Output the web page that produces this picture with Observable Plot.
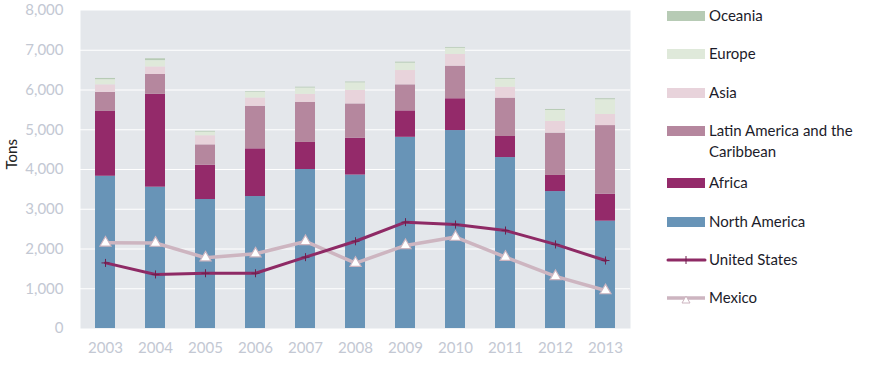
<!DOCTYPE html>
<html>
<head>
<meta charset="utf-8">
<script src="https://cdn.jsdelivr.net/npm/d3@7"></script>
<script src="https://cdn.jsdelivr.net/npm/@observablehq/plot@0.6"></script>
<style>
  html, body { margin: 0; padding: 0; background: #fff; }
  #chart { width: 872px; height: 368px; }
</style>
</head>
<body>
<div id="chart"></div>
<script>
const years = ["2003","2004","2005","2006","2007","2008","2009","2010","2011","2012","2013"];
const regions = ["North America","Africa","Latin America and the Caribbean","Asia","Europe","Oceania"];
const regionColors = ["#6894b7","#942a6a","#b5879e","#e8d3db","#dfe9da","#b7cbb5"];
const northAmerica = [3830,3555,3245,3320,4000,3860,4810,4980,4300,3445,2700];
const africa       = [1630,2335, 865,1200, 680, 930, 665, 800, 530, 405, 680];
const latinAmerica = [ 480, 500, 510,1070,1010, 860, 655, 820, 965,1065,1725];
const asia         = [ 190, 190, 230, 210, 200, 340, 360, 295, 275, 295, 280];
const europe       = [ 130, 160,  90, 145, 160, 190, 185, 155, 200, 275, 370];
const oceania      = [  30,  45,  20,  15,  20,  20,  25,  20,  20,  25,  25];
const unitedStates = [1650,1360,1390,1390,1795,2195,2675,2615,2465,2115,1710];
const mexico       = [2155,2150,1780,1880,2190,1645,2090,2300,1795,1310, 955];
const yTicks = [0,1000,2000,3000,4000,5000,6000,7000,8000];
const legendItems = ["Oceania","Europe","Asia","Latin America and the\nCaribbean","Africa","North America"];
const lineNames = ["United States","Mexico"];

const regionSeries = [northAmerica, africa, latinAmerica, asia, europe, oceania];
const stacked = [];
years.forEach((yr, i) => {
  regions.forEach((r, j) => stacked.push({year: yr, region: r, value: regionSeries[j][i]}));
});
const lines = years.map((yr, i) => ({year: yr, us: unitedStates[i], mx: mexico[i]}));

const usColor = "#8e2a65";
const mxColor = "#cdb5c0";
const axisGray = "#c3c8d3";

const plot = Plot.plot({
  width: 872,
  height: 368,
  marginLeft: 80,
  marginRight: 242,
  marginTop: 10,
  marginBottom: 40,
  style: {fontFamily: "Lato, 'Open Sans', sans-serif", fontSize: "15px", background: "#fff"},
  x: {type: "band", domain: years, paddingInner: 0.6, paddingOuter: 0.3, label: null},
  y: {domain: [0, 8000], label: null},
  color: {domain: regions, range: regionColors},
  marks: [
    Plot.frame({fill: "#e4e7eb", stroke: "none"}),
    Plot.gridY(yTicks.filter(d => d > 0 && d < 8000), {stroke: "#ffffff", strokeOpacity: 1, strokeWidth: 1.2}),
    Plot.axisY({ticks: yTicks, tickFormat: d3.format(","), tickSize: 0, tickPadding: 17, color: axisGray, label: null}),
    Plot.axisX({tickSize: 0, tickPadding: 14, color: axisGray, label: null}),
    Plot.barY(stacked, {x: "year", y: "value", fill: "region", order: regions}),
    Plot.lineY(lines, {x: "year", y: "mx", stroke: mxColor, strokeWidth: 3.5}),
    Plot.lineY(lines, {x: "year", y: "us", stroke: usColor, strokeWidth: 3}),
    Plot.dot(lines, {x: "year", y: "us", symbol: "plus", stroke: "#6e1f4e", strokeWidth: 1, r: 2.7}),
    Plot.dot(lines, {x: "year", y: "mx", symbol: "triangle", fill: "#ffffff", stroke: mxColor, strokeWidth: 1.2, r: 4.1}),
    Plot.text(["Tons"], {frameAnchor: "left", dx: -68, rotate: -90, fill: "#222", fontSize: 15})
  ]
});
document.getElementById("chart").appendChild(plot);

// Legend drawn into the same SVG
const svg = d3.select(plot);
const lg = svg.append("g")
  .attr("font-family", "Lato, 'Open Sans', sans-serif")
  .attr("font-size", 15)
  .attr("text-anchor", "start")
  .attr("fill", "#1c1c2a");
const legendRows = [16, 54, 93, 131, 183, 222];
const legendColors = regionColors.slice().reverse();
legendItems.forEach((name, i) => {
  const y = legendRows[i];
  lg.append("rect").attr("x", 667).attr("y", y - 5).attr("width", 38).attr("height", 10).attr("fill", legendColors[i]);
  const t = lg.append("text").attr("x", 709).attr("y", y).attr("text-anchor", "start");
  name.split("\n").forEach((part, k) => {
    t.append("tspan").attr("x", 709).attr("dy", k === 0 ? "0.35em" : "21px").text(part);
  });
});
// line legend entries
const lineRows = [260, 298];
lineNames.forEach((name, i) => {
  const y = lineRows[i];
  if (i === 0) {
    lg.append("line").attr("x1", 668).attr("x2", 705).attr("y1", y).attr("y2", y).attr("stroke", usColor).attr("stroke-width", 3).attr("stroke-linecap", "round");
    lg.append("line").attr("x1", 686).attr("x2", 686).attr("y1", y - 4).attr("y2", y + 4).attr("stroke", "#6e1f4e").attr("stroke-width", 1);
  } else {
    lg.append("line").attr("x1", 667).attr("x2", 705).attr("y1", y).attr("y2", y).attr("stroke", mxColor).attr("stroke-width", 3.5);
    lg.append("path").attr("d", `M686,${y-2} L682,${y+5} L690,${y+5} Z`).attr("fill", "#fff").attr("stroke", mxColor).attr("stroke-width", 1);
  }
  lg.append("text").attr("x", 709).attr("y", y).attr("dy", "0.35em").attr("text-anchor", "start").text(name);
});
</script>
</body>
</html>
